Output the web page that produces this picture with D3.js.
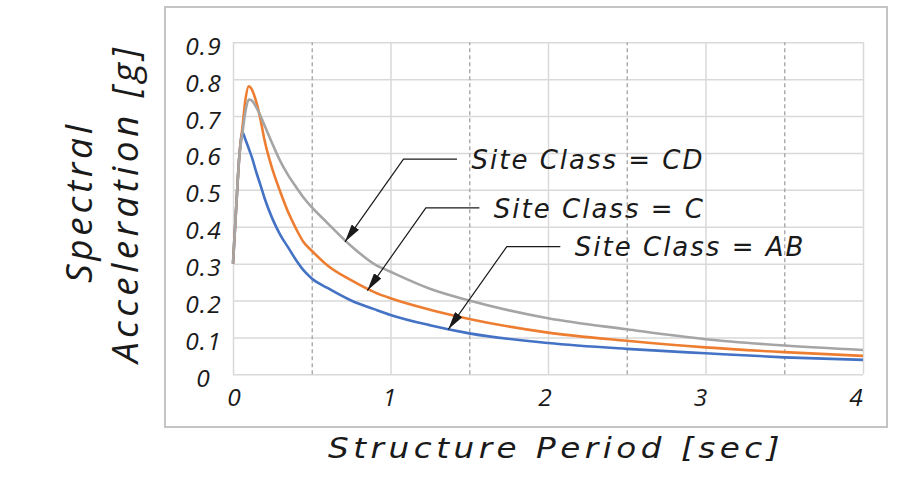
<!DOCTYPE html>
<html><head><meta charset="utf-8">
<script src="https://cdn.jsdelivr.net/npm/d3@7"></script>
<style>
html,body{margin:0;padding:0;background:#fff;}
svg{display:block;}
</style></head><body>
<svg id="chart" width="915" height="483"></svg>
<script>
// ---- data ----
const periods = [0, 0.02, 0.04, 0.06, 0.08, 0.10, 0.12, 0.15, 0.175, 0.20, 0.25, 0.30, 0.35, 0.40, 0.45, 0.50, 0.60, 0.75, 0.90, 1.0, 1.25, 1.5, 2.0, 2.5, 3.0, 3.5, 4.0];
const saCD = [0.30, 0.45, 0.59, 0.655, 0.715, 0.745, 0.742, 0.722, 0.700, 0.675, 0.625, 0.578, 0.540, 0.508, 0.478, 0.453, 0.410, 0.348, 0.298, 0.278, 0.232, 0.200, 0.152, 0.122, 0.095, 0.078, 0.066];
const saC  = [0.30, 0.45, 0.59, 0.670, 0.748, 0.781, 0.772, 0.735, 0.690, 0.635, 0.556, 0.495, 0.440, 0.395, 0.357, 0.335, 0.295, 0.255, 0.222, 0.206, 0.175, 0.150, 0.113, 0.091, 0.073, 0.060, 0.050];
const saAB = [0.30, 0.45, 0.59, 0.656, 0.635, 0.612, 0.588, 0.545, 0.512, 0.478, 0.422, 0.378, 0.344, 0.310, 0.281, 0.260, 0.234, 0.200, 0.176, 0.161, 0.133, 0.111, 0.085, 0.069, 0.057, 0.046, 0.039];
const seriesNames = ["Site Class = CD", "Site Class = C", "Site Class = AB"];
const annoPeriod = [0.711, 0.853, 1.367];
const annoSa = [0.359, 0.227, 0.122];
const xTicks = [0, 1, 2, 3, 4];
const xMinor = [0.5, 1.5, 2.5, 3.5];
const yTicks = [0, 0.1, 0.2, 0.3, 0.4, 0.5, 0.6, 0.7, 0.8, 0.9];
const yTickLabels = ["0", "0.1", "0.2", "0.3", "0.4", "0.5", "0.6", "0.7", "0.8", "0.9"];
const xTitle = "Structure Period [sec]";
const yTitleLines = ["Spectral", "Acceleration [g]"];

// ---- layout ----
const svg = d3.select("#chart");
const x = d3.scaleLinear().domain([0, 4]).range([233, 863]);
const y = d3.scaleLinear().domain([0, 0.9]).range([374.3, 42.3]);
const xLab = x.copy().range([234, 856]);
const colors = {"Site Class = CD": "#a5a5a5", "Site Class = C": "#ed7d31", "Site Class = AB": "#4472c4"};
const INK = "#1a1a1a";

// frame
svg.append("rect").attr("x", 165).attr("y", 7).attr("width", 722).attr("height", 420)
  .attr("fill", "#fff").attr("stroke", "#c4c4c4").attr("stroke-width", 2);

// horizontal gridlines
const gy = svg.append("g").attr("transform", `translate(${x(0)},0)`)
  .call(d3.axisLeft(y).tickValues(yTicks).tickSize(-(x(4) - x(0))).tickFormat(""));
gy.select(".domain").remove();
gy.selectAll("line").attr("stroke", "#d9d9d9").attr("stroke-width", 1.5);

// vertical solid gridlines
const gx = svg.append("g").attr("transform", `translate(0,${y(0)})`)
  .call(d3.axisBottom(x).tickValues(xTicks).tickSize(-(y(0) - y(0.9))).tickFormat(""));
gx.select(".domain").remove();
gx.selectAll("line").attr("stroke", "#d9d9d9").attr("stroke-width", 1.5);

// vertical dashed gridlines
const gd = svg.append("g").attr("transform", `translate(0,${y(0)})`)
  .call(d3.axisBottom(x).tickValues(xMinor).tickSize(-(y(0) - y(0.9))).tickFormat(""));
gd.select(".domain").remove();
gd.selectAll("line").attr("stroke", "#a9a9a9").attr("stroke-width", 1.4).attr("stroke-dasharray", "4,3");

// tick labels
const tickFont = (sel) => sel.attr("font-family", "'Open Sans', sans-serif").attr("font-style", "italic")
  .attr("font-size", 24.5).attr("letter-spacing", 1.2).attr("fill", INK);

const yl = svg.append("g").attr("transform", "translate(203.5,0)")
  .call(d3.axisLeft(y).tickValues(yTicks).tickSize(0).tickPadding(0).tickFormat((d, i) => yTickLabels[i]));
yl.select(".domain").remove();
yl.selectAll("text").attr("x", 0).attr("dy", 0).attr("y", 12).attr("text-anchor", "middle").call(tickFont);

const xl = svg.append("g").attr("transform", `translate(0,${y(0)})`)
  .call(d3.axisBottom(xLab).tickValues(xTicks).tickSize(0).tickPadding(0).tickFormat(d3.format("d")));
xl.select(".domain").remove();
xl.selectAll("text").attr("y", 32).attr("dy", 0).attr("text-anchor", "middle").call(tickFont);

// curves
const seriesVals = {"Site Class = CD": saCD, "Site Class = C": saC, "Site Class = AB": saAB};
const line = d3.line().x(d => x(d[0])).y(d => y(d[1])).curve(d3.curveMonotoneX);
["Site Class = AB", "Site Class = C", "Site Class = CD"].forEach(name => {
  const pts = periods.map((p, i) => [p, seriesVals[name][i]]);
  svg.append("path").attr("d", line(pts)).attr("fill", "none")
    .attr("stroke", colors[name]).attr("stroke-width", 2.6).attr("stroke-linejoin", "round");
});

// arrow marker
svg.append("defs").append("marker").attr("id", "arr").attr("markerUnits", "userSpaceOnUse")
  .attr("markerWidth", 19).attr("markerHeight", 9).attr("refX", 18).attr("refY", 4.5)
  .attr("orient", "auto").attr("viewBox", "0 0 19 9")
  .append("path").attr("d", "M0,0 L18,4.5 L0,9 Z").attr("fill", INK);

// annotations
seriesNames.forEach((name, i) => {
  const tx = x(annoPeriod[i]), ty = y(annoSa[i]);
  const ex = tx + 58.5, ey = ty - 82.7;
  svg.append("path").attr("d", `M${tx + 112},${ey} L${ex},${ey} L${tx},${ty}`)
    .attr("fill", "none").attr("stroke", INK).attr("stroke-width", 1.2).attr("marker-end", "url(#arr)");
  svg.append("text").attr("x", tx + 126.5).attr("y", ty - 73).text(name)
    .attr("font-family", "'DejaVu Sans', sans-serif").attr("font-style", "oblique")
    .attr("font-size", 26).attr("letter-spacing", 2).attr("fill", INK);
});

// axis titles
svg.append("text").attr("x", 328).attr("y", 458).text(xTitle)
  .attr("font-family", "'DejaVu Sans', sans-serif").attr("font-style", "oblique")
  .attr("font-size", 29).attr("letter-spacing", 4)
  .attr("textLength", 456).attr("lengthAdjust", "spacingAndGlyphs").attr("fill", INK);

const yTitlePos = [[92, 283, 158], [138, 363, 315]];
yTitleLines.forEach((t, i) => {
  const [px, py, len] = yTitlePos[i];
  svg.append("text").attr("transform", `translate(${px},${py}) rotate(-90)`).text(t)
    .attr("font-family", "'Open Sans', sans-serif").attr("font-style", "italic")
    .attr("font-size", 37).attr("textLength", len).attr("lengthAdjust", "spacing").attr("fill", INK);
});
</script>
</body></html>
